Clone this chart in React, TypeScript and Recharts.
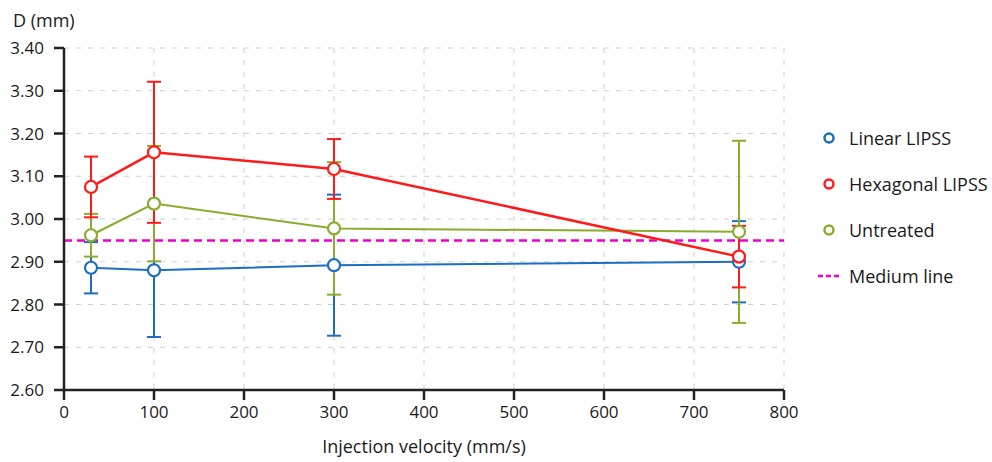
import { LineChart, Line, XAxis, YAxis, CartesianGrid, ErrorBar, ReferenceLine } from 'recharts';

const COLORS = {
  linear: '#1b6ec2',
  hexagonal: '#ff1a1a',
  untreated: '#8aac2e',
  medium: '#ee00cc',
};

const FONT = '"Open Sans", sans-serif';
const AXIS_TICK = { fontSize: 17, fill: '#1a1a1a', fontFamily: FONT };
const LABEL_SIZE = 18;

// injection velocity (mm/s)
const velocities = [30, 100, 300, 750];

// D (mm) and symmetric error
const linearLipss = [2.886, 2.88, 2.892, 2.9];
const linearErr = [0.06, 0.156, 0.165, 0.095];
const hexagonalLipss = [3.075, 3.156, 3.117, 2.912];
const hexagonalErr = [0.071, 0.165, 0.07, 0.072];
const untreated = [2.962, 3.036, 2.978, 2.97];
const untreatedErr = [0.05, 0.135, 0.155, 0.213];

const mediumLine = 2.95;

const xTicks = [0, 100, 200, 300, 400, 500, 600, 700, 800];
const yTicks = [2.6, 2.7, 2.8, 2.9, 3.0, 3.1, 3.2, 3.3, 3.4];

const legendItems = [
  { label: 'Linear LIPSS', color: COLORS.linear, kind: 'dot' },
  { label: 'Hexagonal LIPSS', color: COLORS.hexagonal, kind: 'dot' },
  { label: 'Untreated', color: COLORS.untreated, kind: 'dot' },
  { label: 'Medium line', color: COLORS.medium, kind: 'dash' },
];

const data = velocities.map((v, i) => ({
  v,
  lin: linearLipss[i],
  linErr: linearErr[i],
  hex: hexagonalLipss[i],
  hexErr: hexagonalErr[i],
  unt: untreated[i],
  untErr: untreatedErr[i],
}));

function LegendBox() {
  return (
    <div style={{ position: 'absolute', left: 818, top: 115, fontFamily: FONT, fontSize: LABEL_SIZE, color: '#1a1a1a' }}>
      {legendItems.map(it => (
        <div key={it.label} style={{ display: 'flex', alignItems: 'center', height: 46 }}>
          <svg width={31} height={14}>
            {it.kind === 'dot' ? (
              <circle cx={11} cy={7} r={4.5} fill="#fff" stroke={it.color} strokeWidth={2.5} />
            ) : (
              <line x1={0} y1={7} x2={22} y2={7} stroke={it.color} strokeWidth={2.5} strokeDasharray="5 3" />
            )}
          </svg>
          <span>{it.label}</span>
        </div>
      ))}
    </div>
  );
}

const dot = (color: string) => ({ r: 6, fill: '#fff', stroke: color, strokeWidth: 2.2 });

export default function App() {
  return (
    <div style={{ position: 'fixed', left: 0, top: 0, width: 992, height: 462, background: '#fff' }}>
      <LineChart width={992} height={462} data={data} margin={{ top: 48, right: 208, left: 0, bottom: 0 }}>
        <CartesianGrid stroke="#cfcfcf" strokeDasharray="5 7" strokeWidth={1} />
        <XAxis
          dataKey="v"
          type="number"
          domain={[0, 800]}
          ticks={xTicks}
          tick={AXIS_TICK}
          tickSize={10}
          tickMargin={6}
          height={72}
          axisLine={{ stroke: '#222', strokeWidth: 2.5 }}
          tickLine={{ stroke: '#222', strokeWidth: 2.5 }}
          label={{ value: 'Injection velocity (mm/s)', position: 'insideBottom', offset: 9, style: { fontSize: LABEL_SIZE, fill: '#1a1a1a', fontFamily: FONT } }}
        />
        <YAxis
          type="number"
          domain={[2.6, 3.4]}
          ticks={yTicks}
          tickFormatter={(t: number) => t.toFixed(2)}
          tick={AXIS_TICK}
          tickSize={10}
          tickMargin={10}
          width={64}
          axisLine={{ stroke: '#222', strokeWidth: 2.5 }}
          tickLine={{ stroke: '#222', strokeWidth: 2.5 }}
          label={{
            content: () => (
              <text x={13} y={27} fontSize={LABEL_SIZE} fill="#1a1a1a" fontFamily={FONT}>D (mm)</text>
            ),
          }}
        />
        <ReferenceLine y={mediumLine} stroke={COLORS.medium} strokeWidth={2.5} strokeDasharray="8 5" />
        <Line type="linear" dataKey="lin" stroke={COLORS.linear} strokeWidth={2} dot={dot(COLORS.linear)} isAnimationActive={false}>
          <ErrorBar dataKey="linErr" direction="y" width={7} stroke={COLORS.linear} strokeWidth={2} />
        </Line>
        <Line type="linear" dataKey="unt" stroke={COLORS.untreated} strokeWidth={2} dot={dot(COLORS.untreated)} isAnimationActive={false}>
          <ErrorBar dataKey="untErr" direction="y" width={7} stroke={COLORS.untreated} strokeWidth={2} />
        </Line>
        <Line type="linear" dataKey="hex" stroke={COLORS.hexagonal} strokeWidth={2.5} dot={dot(COLORS.hexagonal)} isAnimationActive={false}>
          <ErrorBar dataKey="hexErr" direction="y" width={7} stroke={COLORS.hexagonal} strokeWidth={2} />
        </Line>
      </LineChart>
      <LegendBox />
    </div>
  );
}
